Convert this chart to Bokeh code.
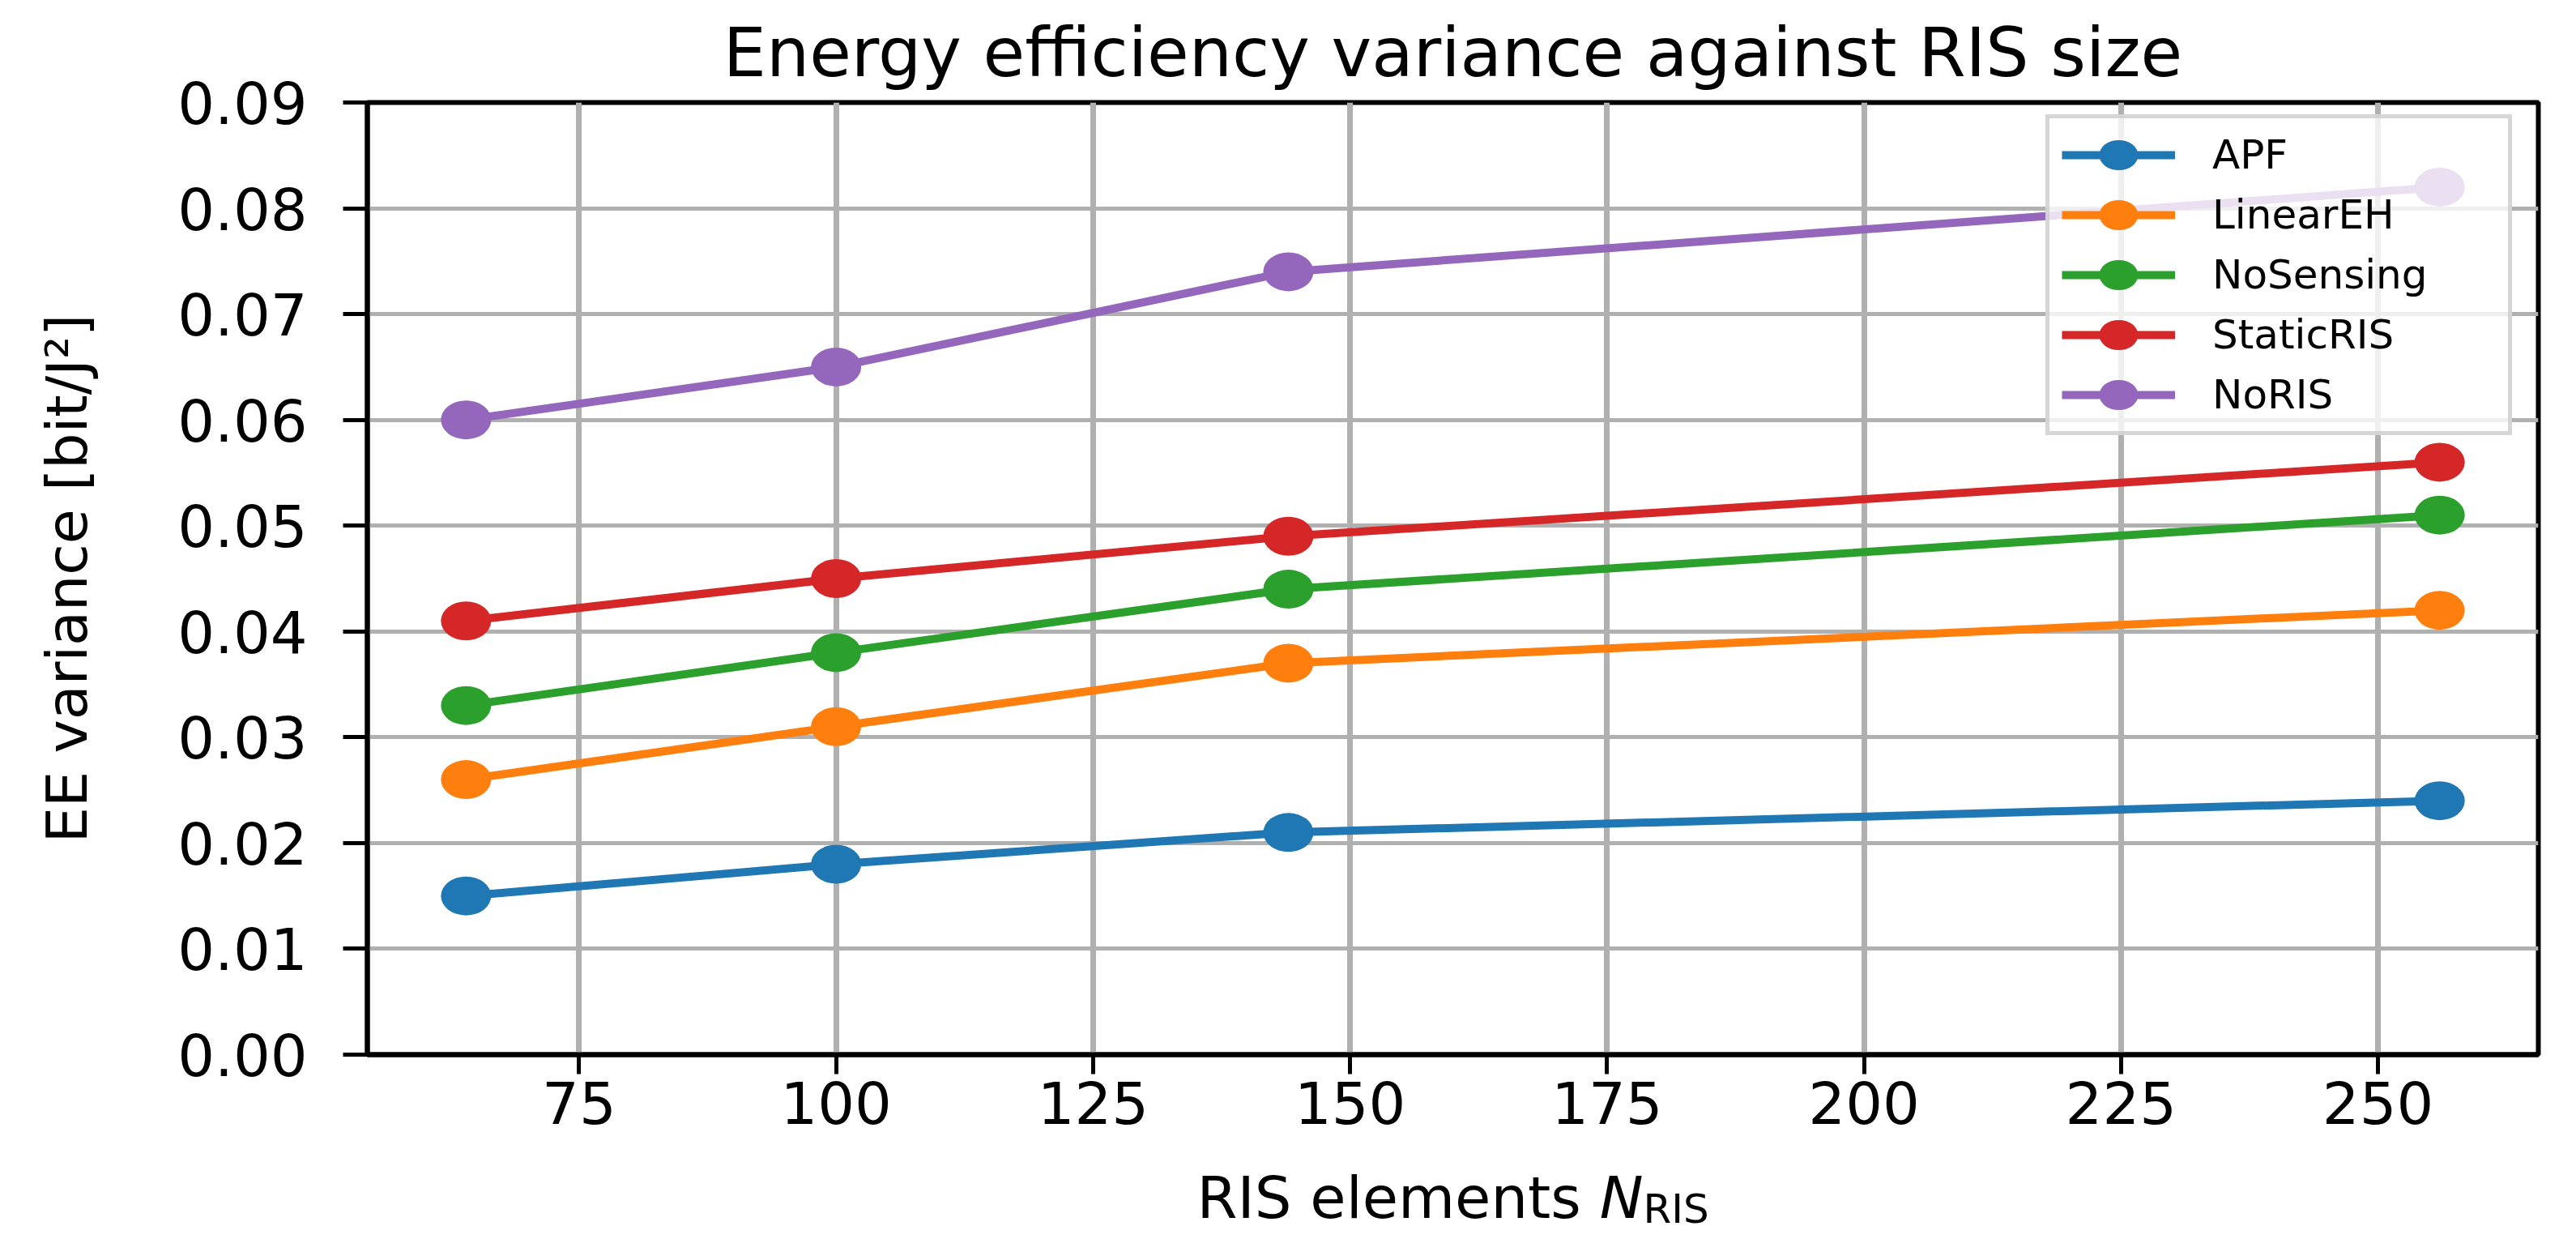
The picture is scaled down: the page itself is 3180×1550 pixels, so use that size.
from bokeh.embed import file_html
from bokeh.layouts import column
from bokeh.models import (Label, Legend, LegendItem, PrintfTickFormatter,
                          Range1d, SingleIntervalTicker)
from bokeh.plotting import figure
from bokeh.resources import INLINE

# RIS size on the x axis, EE variance per scheme on the y axis
ris_elements = [64, 100, 144, 256]
apf = [0.015, 0.018, 0.021, 0.024]
linear_eh = [0.026, 0.031, 0.037, 0.042]
no_sensing = [0.033, 0.038, 0.044, 0.051]
static_ris = [0.041, 0.045, 0.049, 0.056]
no_ris = [0.060, 0.065, 0.074, 0.082]

series_names = ["APF", "LinearEH", "NoSensing", "StaticRIS", "NoRIS"]
series_values = [apf, linear_eh, no_sensing, static_ris, no_ris]
colors = ["#1f77b4", "#ff7f0e", "#2ca02c", "#d62728", "#9467bd"]

x_tick_step = 25
y_tick_step = 0.01
y_max = 0.09

FONT = "DejaVu Sans"

W = 3164
H_PLOT, H_STRIP = 1434, 100
BORDER_L, BORDER_R, BORDER_T, BORDER_B = 453, 31, 115, 133
frame_w = W - BORDER_L - BORDER_R

# matplotlib style 5% margin on x
span = max(ris_elements) - min(ris_elements)
x_lo = min(ris_elements) - 0.05 * span
x_hi = max(ris_elements) + 0.05 * span

p = figure(width=W, height=H_PLOT, output_backend="svg", toolbar_location=None,
           x_range=Range1d(x_lo, x_hi), y_range=Range1d(0, y_max),
           min_border_left=BORDER_L, min_border_right=BORDER_R,
           min_border_top=BORDER_T, min_border_bottom=BORDER_B,
           background_fill_color="white", border_fill_color="white")

p.title.text = "Energy efficiency variance against RIS size"
p.title.align = "center"
p.title.text_font = FONT
p.title.text_font_size = "84px"
p.title.text_font_style = "normal"
p.title.text_color = "black"
p.title.standoff = 26

p.outline_line_color = "black"
p.outline_line_width = 6
p.outline_line_alpha = 1.0

p.xaxis.ticker = SingleIntervalTicker(interval=x_tick_step)
p.yaxis.ticker = SingleIntervalTicker(interval=y_tick_step)
p.yaxis.formatter = PrintfTickFormatter(format="%.2f")

for ax in (p.xaxis, p.yaxis):
    ax.axis_line_color = "black"
    ax.axis_line_width = 6
    ax.major_tick_line_color = "black"
    ax.major_tick_line_width = 5
    ax.major_tick_in = 0
    ax.minor_tick_line_color = None
    ax.major_label_text_font = FONT
    ax.major_label_text_font_size = "72px"
    ax.major_label_text_color = "black"

p.xaxis.major_tick_out = 24
p.xaxis.major_label_standoff = 8
p.yaxis.major_tick_out = 30
p.yaxis.major_label_standoff = 44

p.yaxis.axis_label = "EE variance [bit/J\u00b2]"
p.yaxis.axis_label_text_font = FONT
p.yaxis.axis_label_text_font_size = "70px"
p.yaxis.axis_label_text_font_style = "normal"
p.yaxis.axis_label_text_color = "black"
p.yaxis.axis_label_standoff = 92

p.xgrid.grid_line_color = "#b0b0b0"
p.xgrid.grid_line_width = 7
p.ygrid.grid_line_color = "#b0b0b0"
p.ygrid.grid_line_width = 5

items = []
for name, vals, c in zip(series_names, series_values, colors):
    ln = p.line(ris_elements, vals, line_color=c, line_width=10)
    el = p.ellipse(ris_elements, vals, width=62, height=48,
                   width_units="screen", height_units="screen",
                   fill_color=c, line_color=None)
    items.append(LegendItem(label=name, renderers=[ln, el]))

legend = Legend(items=items, location=(2072, 764), margin=0,
                padding=15, spacing=14, glyph_width=140, glyph_height=60,
                label_height=60, label_width=350, label_standoff=46,
                label_text_font=FONT, label_text_font_size="50px",
                label_text_color="black",
                background_fill_color="white", background_fill_alpha=0.8,
                border_line_color="#cccccc", border_line_width=5,
                border_line_alpha=0.8)
p.add_layout(legend)

# x axis label "RIS elements N_RIS" lives in a thin strip under the plot,
# so the pieces (italic N, subscript RIS) are not clipped by the frame.
# the strip's frame lines up with the main frame in the column
strip = figure(width=W, height=H_STRIP, output_backend="svg", toolbar_location=None,
               x_axis_location=None, y_axis_location=None,
               x_range=Range1d(0, 1), y_range=Range1d(0, 1),
               min_border=0, outline_line_color=None,
               background_fill_color="white", border_fill_color="white")
strip.grid.visible = False

main_size = 72
sub_size = 50
start = frame_w / 2 - 316
base = 57
strip.add_layout(Label(x=start, y=base, x_units="screen", y_units="screen",
                       text="RIS elements", text_font=FONT,
                       text_font_size=f"{main_size}px", text_align="left",
                       text_baseline="alphabetic", text_color="black"))
strip.add_layout(Label(x=start + 6.905 * main_size, y=base,
                       x_units="screen", y_units="screen",
                       text="N", text_font=FONT, text_font_style="italic",
                       text_font_size=f"{main_size}px", text_align="left",
                       text_baseline="alphabetic", text_color="black"))
strip.add_layout(Label(x=start + 7.653 * main_size, y=base - 14,
                       x_units="screen", y_units="screen",
                       text="RIS", text_font=FONT,
                       text_font_size=f"{sub_size}px", text_align="left",
                       text_baseline="alphabetic", text_color="black"))

page = column(p, strip, spacing=0)

open("out.html", "w").write(file_html(page, INLINE))
